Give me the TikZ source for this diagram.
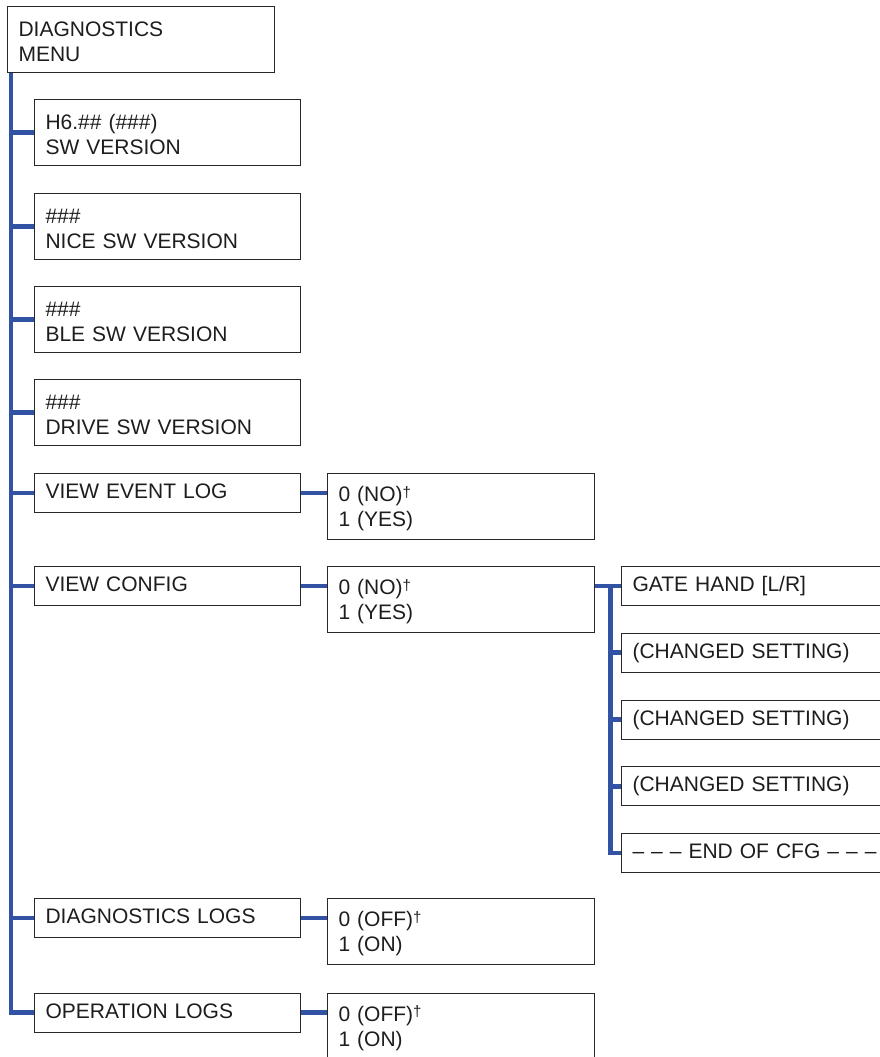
\documentclass[tikz,border=0pt]{standalone}
\usepackage{fontspec}
\setmainfont{Liberation Sans}
\usetikzlibrary{positioning}
\definecolor{wireblue}{RGB}{50,82,163}
\definecolor{boxgray}{RGB}{40,40,40}
\definecolor{textgray}{RGB}{30,28,28}
\newcommand{\dagmark}{\raisebox{4.5pt}{\fontsize{15}{15}\selectfont †}}

\begin{document}
\begin{tikzpicture}[x=1pt, y=-1pt,
  every node/.style={font=\fontsize{21}{25}\selectfont, text=textgray},
  menubox/.style={draw=boxgray, line width=1.1pt, anchor=north west, inner xsep=11pt, inner ysep=0pt, align=left, text width=#1},
  twoline/.style={menubox=#1, minimum height=66pt, text height=15pt, text depth=22pt},
  oneline/.style={menubox=#1, minimum height=39pt, text height=15pt, text depth=4pt},
  optbox/.style={menubox=245pt, minimum height=66pt, text height=15pt, text depth=25pt},
  wire/.style={draw=wireblue, line width=4.8pt}]
\useasboundingbox (0,0) rectangle (880,1057);
\node[twoline=245pt] (menu) at (7,6) {DIAGNOSTICS\\MENU};
\node[twoline=244pt] (swv) at (34,99) {H6.\#\# (\#\#\#)\\SW VERSION};
\node[twoline=244pt] (nice) at (34,193) {\#\#\#\\NICE SW VERSION};
\node[twoline=244pt] (ble) at (34,286) {\#\#\#\\BLE SW VERSION};
\node[twoline=244pt] (drive) at (34,379) {\#\#\#\\DRIVE SW VERSION};
\node[oneline=244pt] (evlog) at (34,473) {VIEW EVENT LOG};
\node[optbox] (evopt) at (327,473) {0 (NO)\dagmark\\1 (YES)};
\node[oneline=244pt] (cfg) at (34,566) {VIEW CONFIG};
\node[optbox] (cfgopt) at (327,566) {0 (NO)\dagmark\\1 (YES)};
\node[oneline=243pt] (hand) at (621,566) {GATE HAND [L/R]};
\node[oneline=243pt] (chg1) at (621,632.75) {(CHANGED SETTING)};
\node[oneline=243pt] (chg2) at (621,699.5) {(CHANGED SETTING)};
\node[oneline=243pt] (chg3) at (621,766.25) {(CHANGED SETTING)};
\node[oneline=243pt] (cfgend) at (621,833) {\mbox{– – – END OF CFG – – –}};
\node[oneline=244pt] (dlogs) at (34,898) {DIAGNOSTICS LOGS};
\node[optbox] (dlopt) at (327,898) {0 (OFF)\dagmark\\1 (ON)};
\node[oneline=244pt] (ologs) at (34,992.5) {OPERATION LOGS};
\node[optbox] (olopt) at (327,992.5) {0 (OFF)\dagmark\\1 (ON)};
\coordinate (top) at ([xshift=4pt]menu.south west);
\coordinate (fork) at ([xshift=15pt]cfgopt.east);
\draw[wire] (top) |- (ologs.west);
\foreach \n in {swv,nice,ble,drive,evlog,cfg,dlogs}
  \draw[wire] (top |- \n.west) -- (\n.west);
\draw[wire] (evlog.east) -- (evlog.east -| evopt.west);
\draw[wire] (cfg.east) -- (cfg.east -| cfgopt.west);
\draw[wire] (dlogs.east) -- (dlogs.east -| dlopt.west);
\draw[wire] (ologs.east) -- (ologs.east -| olopt.west);
\draw[wire] (cfgopt.east |- hand.west) -- (hand.west);
\draw[wire] (fork |- hand.west) |- (cfgend.west);
\foreach \n in {chg1,chg2,chg3}
  \draw[wire] (fork |- \n.west) -- (\n.west);
\end{tikzpicture}
\end{document}
